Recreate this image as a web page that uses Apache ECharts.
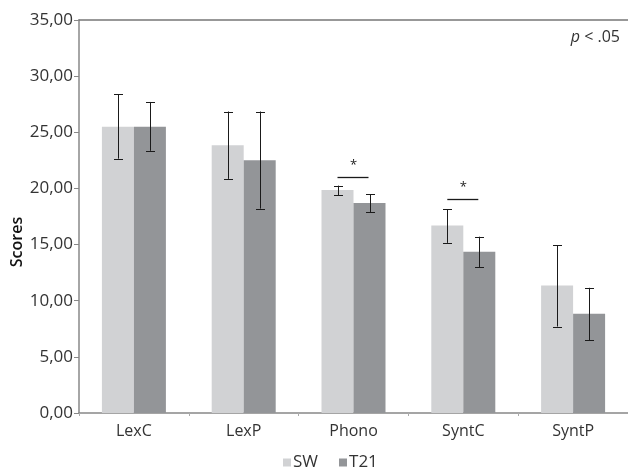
<!DOCTYPE html>
<html>
<head>
<meta charset="utf-8">
<script src="https://cdn.jsdelivr.net/npm/echarts@6/dist/echarts.min.js"></script>
<style>html,body{margin:0;padding:0;background:#fff}#c{width:628px;height:471px}</style>
</head>
<body>
<div id="c"></div>
<script>
var categories = ['LexC', 'LexP', 'Phono', 'SyntC', 'SyntP'];
var swValues  = [25.5, 23.85, 19.85, 16.7, 11.35];
var t21Values = [25.5, 22.5, 18.7, 14.35, 8.85];
var swLow   = [22.65, 20.85, 19.4, 15.15, 7.7];
var swHigh  = [28.4, 26.85, 20.25, 18.15, 14.95];
var t21Low  = [23.35, 18.2, 17.9, 13.0, 6.5];
var t21High = [27.7, 26.85, 19.5, 15.7, 11.15];
var sigCategories = [2, 3];
var sigLevels = [21.05, 19.05];
var yTickLabels = ['0,00','5,00','10,00','15,00','20,00','25,00','30,00','35,00'];

var FONT = '"Open Sans", sans-serif';
var chart = echarts.init(document.getElementById('c'), null, {renderer: 'canvas'});

function errSeries(name, low, high, dir) {
  return {
    type: 'custom', name: name + ' err', z: 5, silent: true,
    data: categories.map(function (c, i) { return [i, low[i], high[i]]; }),
    renderItem: function (params, api) {
      var lo = api.coord([api.value(0), api.value(1)]);
      var hi = api.coord([api.value(0), api.value(2)]);
      var x = Math.round(lo[0] + dir * 16) + 0.5;
      var cap = 4.5;
      var st = {stroke: '#1a1a1a', lineWidth: 1};
      return {type: 'group', children: [
        {type: 'line', shape: {x1: x, y1: hi[1], x2: x, y2: lo[1]}, style: st},
        {type: 'line', shape: {x1: x - cap, y1: Math.round(hi[1]) + 0.5, x2: x + cap, y2: Math.round(hi[1]) + 0.5}, style: st},
        {type: 'line', shape: {x1: x - cap, y1: Math.round(lo[1]) + 0.5, x2: x + cap, y2: Math.round(lo[1]) + 0.5}, style: st}
      ]};
    }
  };
}

var option = {
  animation: false,
  textStyle: {fontFamily: FONT},
  grid: {left: 79, top: 20, width: 555, height: 393},
  legend: {
    top: 449, left: 278,
    data: ['SW', 'T21'],
    icon: 'rect', itemWidth: 8, itemHeight: 8, itemGap: 21,
    textStyle: {fontFamily: FONT, fontSize: 17, color: '#333', padding: [0, 0, 0, -3]}
  },
  xAxis: [{
    type: 'category', data: categories,
    axisLine: {lineStyle: {color: '#888', width: 1.5}},
    axisTick: {show: true, length: 3, lineStyle: {color: '#aaa'}},
    axisLabel: {fontFamily: FONT, fontSize: 16, color: '#333', margin: 10}
  }, {
    type: 'category', data: categories, position: 'top',
    axisLine: {show: true, lineStyle: {color: '#777', width: 1.5}},
    axisTick: {show: false}, axisLabel: {show: false}
  }],
  yAxis: {
    type: 'value', min: 0, max: 35, interval: 5,
    axisLine: {show: true, lineStyle: {color: '#888', width: 1.5}},
    axisTick: {show: true, length: 5, lineStyle: {color: '#888'}},
    splitLine: {show: false},
    axisLabel: {fontFamily: FONT, fontSize: 17, color: '#333', margin: 6,
      formatter: function (v) { return yTickLabels[Math.round(v / 5)]; }}
  },
  graphic: [{
    type: 'text', right: 8, top: 29,
    style: {
      text: '{i|p} < .05', fill: '#333', font: '16px ' + FONT,
      rich: {i: {fontStyle: 'italic', fontSize: 16, fontFamily: FONT, fill: '#333'}}
    }
  }, {
    type: 'text', x: 17, y: 242, rotation: Math.PI / 2,
    style: {text: 'Scores', font: '600 16px ' + FONT, fill: '#111', align: 'center', verticalAlign: 'middle'}
  }],
  series: [
    {name: 'SW', type: 'bar', data: swValues, barWidth: 32, barGap: '0%',
     itemStyle: {color: '#d1d2d4'}},
    {name: 'T21', type: 'bar', data: t21Values, barWidth: 32, barGap: '0%',
     itemStyle: {color: '#939598'}},
    errSeries('SW', swLow, swHigh, -1),
    errSeries('T21', t21Low, t21High, 1),
    {
      type: 'custom', name: 'sig', z: 6, silent: true,
      data: sigCategories.map(function (c, i) { return [c, sigLevels[i]]; }),
      renderItem: function (params, api) {
        var p = api.coord([api.value(0), api.value(1)]);
        var y = Math.round(p[1]) + 0.5;
        return {type: 'group', children: [
          {type: 'line', shape: {x1: p[0] - 16, y1: y, x2: p[0] + 15, y2: y}, style: {stroke: '#1a1a1a', lineWidth: 1.3}},
          {type: 'text', x: p[0], y: y - 12, style: {text: '*', font: '13px ' + FONT, fill: '#222', align: 'center', verticalAlign: 'middle'}}
        ]};
      }
    }
  ]
};
chart.setOption(option);
</script>
</body>
</html>
